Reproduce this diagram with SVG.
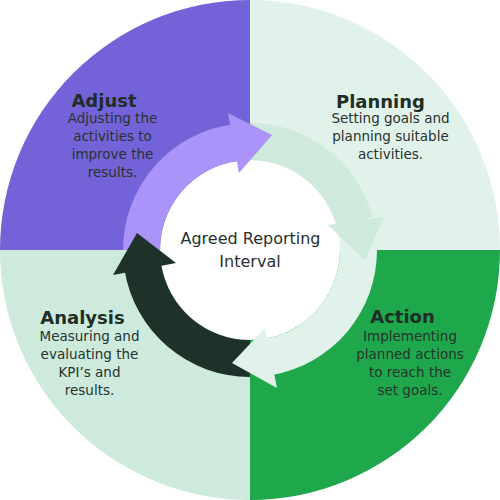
<svg xmlns="http://www.w3.org/2000/svg" width="500" height="500" viewBox="0 0 500 500">
<style>
.title{font-family:"DejaVu Sans","Open Sans",sans-serif;font-weight:bold;font-size:18px;fill:#1f2d27;text-anchor:middle}
.body{font-family:"DejaVu Sans","Open Sans",sans-serif;font-size:13.5px;fill:#27332e;text-anchor:middle}
.center{font-family:"DejaVu Sans","Open Sans",sans-serif;font-size:16px;fill:#2b2f2d;text-anchor:middle}
</style>
<rect width="500" height="500" fill="#ffffff"/>
<g id="adjust">
<path d="M250 250 L0 250 A250 250 0 0 1 250 0 Z" fill="#7462d8"/>
<text class="title" x="104" y="107">Adjust</text>
<text class="body" x="112.5" y="123">Adjusting the</text>
<text class="body" x="112.5" y="141">activities to</text>
<text class="body" x="112.5" y="159">improve the</text>
<text class="body" x="112.5" y="177">results.</text>
</g>
<g id="planning">
<path d="M250 250 L250 0 A250 250 0 0 1 500 250 Z" fill="#e0f2ea"/>
<text class="title" x="380.5" y="108">Planning</text>
<text class="body" x="390.5" y="123">Setting goals and</text>
<text class="body" x="390.5" y="141">planning suitable</text>
<text class="body" x="390.5" y="159">activities.</text>
</g>
<g id="action">
<path d="M250 250 L500 250 A250 250 0 0 1 250 500 Z" fill="#1ea84b"/>
<text class="title" x="402.5" y="323">Action</text>
<text class="body" x="410" y="341">Implementing</text>
<text class="body" x="410" y="359">planned actions</text>
<text class="body" x="410" y="377">to reach the</text>
<text class="body" x="410" y="395">set goals.</text>
</g>
<g id="analysis">
<path d="M250 250 L250 500 A250 250 0 0 1 0 250 Z" fill="#cdeadd"/>
<text class="title" x="82.5" y="324">Analysis</text>
<text class="body" x="89.5" y="341">Measuring and</text>
<text class="body" x="89.5" y="359">evaluating the</text>
<text class="body" x="89.5" y="377">KPI’s and</text>
<text class="body" x="89.5" y="395">results.</text>
</g>
<circle cx="250" cy="250" r="90" fill="#ffffff"/>
<g id="connectors">
<!-- shafts -->
<path d="M123 250 A127 127 0 0 1 232.8 124.2 L237.6 160.9 A90 90 0 0 0 160 250 Z" fill="#aa93f9"/>
<path d="M250 123 A127 127 0 0 1 372.4 217.1 L336.7 226.7 A90 90 0 0 0 250 160 Z" fill="#cfe9dd"/>
<path d="M377 250 A127 127 0 0 1 272.1 375.1 L265.6 338.6 A90 90 0 0 0 340 250 Z" fill="#e1f2ea"/>
<path d="M250 377 A127 127 0 0 1 124.6 269.9 L161.1 264.1 A90 90 0 0 0 250 340 Z" fill="#1f3229"/>
<!-- heads -->
<polygon points="228,113 272,135 239,173" fill="#aa93f9"/>
<polygon points="384,217 365,260 328,225" fill="#cfe9dd"/>
<polygon points="265,328 232,363 277,388" fill="#e1f2ea"/>
<polygon points="137,233 113,275 176,263" fill="#1f3229"/>
</g>
<g id="center">
<text class="center" x="250.5" y="244">Agreed Reporting</text>
<text class="center" x="250" y="267">Interval</text>
</g>
</svg>
